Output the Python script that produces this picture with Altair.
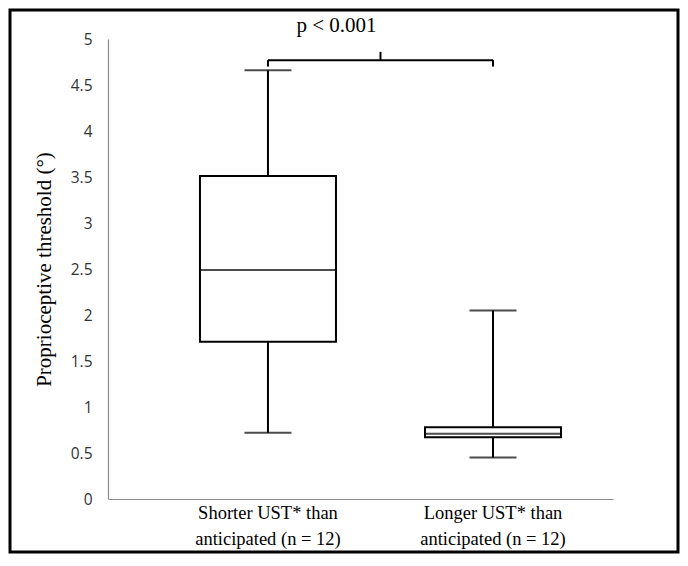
import altair as alt
import pandas as pd

groups = ["Shorter UST* than|anticipated (n = 12)", "Longer UST* than|anticipated (n = 12)"]
lows = [0.72, 0.45]
q1s = [1.71, 0.67]
medians = [2.49, 0.71]
q3s = [3.51, 0.78]
highs = [4.66, 2.05]

bracket_y = 4.77
bracket_end = 4.70
bracket_peak = 4.86
p_label = "p < 0.001"
p_y = 5.14
y_ticks = [0, 0.5, 1, 1.5, 2, 2.5, 3, 3.5, 4, 4.5, 5]

df = pd.DataFrame({"group": groups, "low": lows, "q1": q1s, "median": medians,
                   "q3": q3s, "high": highs})

xscale = alt.Scale(domain=groups, paddingInner=0, paddingOuter=0.122, align=0.864)
X = alt.X("group:N", scale=xscale, sort=groups,
          axis=alt.Axis(title=None, labelExpr="split(datum.value, '|')", labelAngle=0,
                        labelFont="Liberation Serif", labelFontSize=18.5, labelColor="black",
                        labelLineHeight=26, labelPadding=4, ticks=False,
                        domainColor="#8c8c8c", domainWidth=1.2, labelLimit=300))
yscale = alt.Scale(domain=[0, 5], nice=False, zero=True)
Y = alt.Y("low:Q", scale=yscale,
          axis=alt.Axis(title="Proprioceptive threshold (°)", values=y_ticks,
                        labelExpr="format(datum.value, '.1~f')", grid=False, ticks=False,
                        labelFont="Open Sans", labelFontSize=15.5, labelColor="#333333",
                        labelPadding=16, domainColor="#8c8c8c", domainWidth=1.2,
                        titleFont="Liberation Serif", titleFontSize=21,
                        titleFontWeight="normal", titleColor="black", titlePadding=16))

base = alt.Chart(df)

lower_whisker = base.mark_rule(color="black", strokeWidth=2).encode(x=X, y=Y, y2="q1:Q")
upper_whisker = base.mark_rule(color="black", strokeWidth=2).encode(x=X, y="q3:Q", y2="high:Q")
box = base.mark_bar(fill="white", stroke="black", strokeWidth=2, size=136).encode(
    x=X, y="q1:Q", y2="q3:Q")
median_tick = base.mark_tick(color="black", thickness=2, size=136).encode(x=X, y="median:Q")
low_cap = base.mark_tick(color="black", thickness=2, size=47).encode(x=X, y="low:Q")
high_cap = base.mark_tick(color="black", thickness=2, size=47).encode(x=X, y="high:Q")

bdf = pd.DataFrame({"g0": [groups[0]], "g1": [groups[1]], "by": [bracket_y],
                    "be": [bracket_end], "bp": [bracket_peak], "py": [p_y], "p": [p_label]})
bb = alt.Chart(bdf)
br_h = bb.mark_rule(color="black", strokeWidth=2).encode(
    x=alt.X("g0:N", scale=xscale), x2="g1:N", y=alt.Y("by:Q", scale=yscale))
br_l = bb.mark_rule(color="black", strokeWidth=2).encode(
    x=alt.X("g0:N", scale=xscale), y=alt.Y("by:Q", scale=yscale), y2="be:Q")
br_r = bb.mark_rule(color="black", strokeWidth=2).encode(
    x=alt.X("g1:N", scale=xscale), y=alt.Y("by:Q", scale=yscale), y2="be:Q")
br_m = bb.mark_rule(color="black", strokeWidth=2).encode(
    x=alt.X("g0:N", scale=xscale, bandPosition=1), y=alt.Y("by:Q", scale=yscale), y2="bp:Q")
p_text = bb.mark_text(font="Liberation Serif", fontSize=21, color="black", dx=-44,
                      baseline="middle").encode(
    x=alt.X("g0:N", scale=xscale, bandPosition=1), y=alt.Y("py:Q", scale=yscale), text="p:N")

frame = alt.Chart(bdf).mark_rect(fill=None, stroke="black", strokeWidth=3).encode(
    x=alt.value(-98), x2=alt.value(570), y=alt.value(-29), y2=alt.value(513))

chart = alt.layer(frame, lower_whisker, upper_whisker, box, median_tick, low_cap, high_cap,
                  br_h, br_l, br_r, br_m, p_text).properties(
    width=505, height=460,
    background="white",
    autosize=alt.AutoSizeParams(type="none"),
    padding={"left": 100, "top": 31, "right": 67, "bottom": 55},
).configure_view(stroke=None, strokeWidth=0)

chart.save("out.html", embed_options={"renderer": "svg", "actions": False})
